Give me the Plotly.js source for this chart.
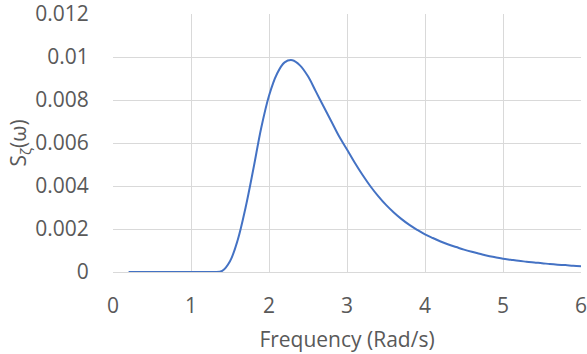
<!DOCTYPE html>
<html>
<head>
<meta charset="utf-8">
<script src="https://cdn.plot.ly/plotly-3.0.1.min.js"></script>
<style>html,body{margin:0;padding:0;background:#fff;}#chart{width:587px;height:354px;}</style>
</head>
<body>
<div id="chart"></div>
<script>
const freq = [0.2,0.3,0.4,0.5,0.6,0.7,0.8,0.9,1.0,1.1,1.2,1.3,1.4,1.5,1.6,1.7,1.8,1.9,2.0,2.1,2.2,2.3,2.4,2.5,2.6,2.7,2.8,2.9,3.0,3.1,3.2,3.3,3.4,3.5,3.6,3.7,3.8,3.9,4.0,4.1,4.2,4.3,4.4,4.5,4.6,4.7,4.8,4.9,5.0,5.1,5.2,5.3,5.4,5.5,5.6,5.7,5.8,5.9,6.0];
const spectrum = [0,0,0,0,0,0,0,0,0,0,0,0,0.00005,0.0005,0.0015,0.0030,0.0048,0.0067,0.0082,0.0092,0.00975,0.00985,0.0096,0.0091,0.0084,0.0077,0.0070,0.0063,0.0057,0.00508,0.00451,0.00399,0.00353,0.00312,0.00277,0.00246,0.00219,0.00196,0.00175,0.00158,0.00142,0.00128,0.00116,0.00104,0.00094,0.00085,0.00076,0.00069,0.00062,0.00057,0.00052,0.00048,0.00044,0.00041,0.00037,0.00034,0.00032,0.00029,0.00027];
const xTicks = [0,1,2,3,4,5,6];
const yTicks = [0,0.002,0.004,0.006,0.008,0.01,0.012];
const yTickText = ['0','0.002','0.004','0.006','0.008','0.01','0.012'];

const FAMILY = 'Open Sans, Liberation Sans, sans-serif';
const GREY = '#595959';
Plotly.newPlot('chart', [{
  x: freq, y: spectrum, type: 'scatter', mode: 'lines',
  line: {color: '#4472C4', width: 2, shape: 'spline', smoothing: 1},
  hoverinfo: 'skip'
}], {
  width: 587, height: 354,
  margin: {l: 113, r: 6, t: 14, b: 82},
  paper_bgcolor: '#fff', plot_bgcolor: '#fff',
  showlegend: false,
  font: {family: FAMILY, size: 21, color: GREY},
  xaxis: {
    range: [0, 6], tickvals: xTicks, ticktext: xTicks.map(String),
    showgrid: true, gridcolor: '#d9d9d9', gridwidth: 1,
    zeroline: false, showline: true, linecolor: '#d9d9d9', linewidth: 1,
    ticks: 'outside', ticklen: 15, tickcolor: 'rgba(0,0,0,0)',
    ticklabeloverflow: 'allow',
    tickfont: {family: FAMILY, size: 21, color: GREY},
    title: {text: 'Frequency (Rad/s)', font: {family: FAMILY, size: 21, color: GREY}, standoff: 14}
  },
  yaxis: {
    range: [0, 0.012], tickvals: yTicks, ticktext: yTickText,
    showgrid: true, gridcolor: '#d9d9d9', gridwidth: 1,
    zeroline: false, showline: false,
    ticks: 'outside', ticklen: 19, tickcolor: 'rgba(0,0,0,0)',
    ticklabeloverflow: 'allow',
    tickfont: {family: FAMILY, size: 21, color: GREY},
    title: {text: 'S<sub>ζ</sub>(ω)', font: {family: FAMILY, size: 21, color: GREY}, standoff: 2}
  }
}, {displayModeBar: false, staticPlot: true});
</script>
</body>
</html>
